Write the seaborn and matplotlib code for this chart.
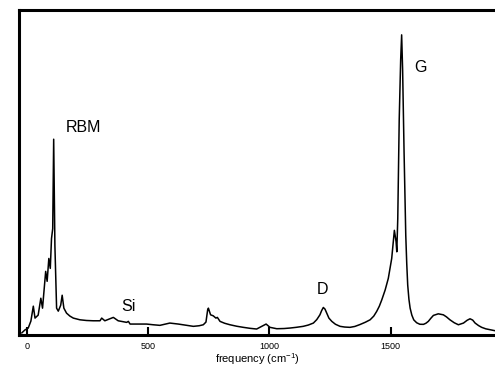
import seaborn as sns
import matplotlib.pyplot as plt
import numpy as np
import pandas as pd

# Raman spectrum (frequency in cm^-1, intensity in arbitrary units)
freq = [-22, -9, 5, 16, 26, 33, 46, 57, 64, 77, 83, 90, 96, 101, 106, 110, 115, 122, 129,
        139, 145, 152, 163, 177, 191, 218, 245, 273, 301, 308, 321, 356, 376, 411, 418, 425,
        460, 493, 520, 548, 589, 624, 655, 686, 710, 727, 738, 745, 748, 757, 768, 779, 785,
        796, 815, 837, 865, 892, 920, 947, 968, 986, 1002, 1030, 1060, 1085, 1110, 1139, 1160,
        1181, 1195, 1208, 1215, 1222, 1229, 1236, 1245, 1257, 1272, 1291, 1310, 1332, 1352,
        1373, 1395, 1415, 1430, 1442, 1453, 1463, 1477, 1490, 1504, 1515, 1522, 1525, 1529,
        1535, 1541, 1545, 1549, 1555, 1562, 1566, 1570, 1575, 1580, 1587, 1595, 1607, 1620,
        1635, 1645, 1655, 1666, 1676, 1696, 1717, 1730, 1744, 1762, 1779, 1800, 1815, 1827,
        1838, 1848, 1862, 1875, 1892, 1910, 1930]
intensity = [2, 5, 7, 14, 29, 17, 20, 37, 27, 64, 54, 77, 67, 97, 107, 197, 90, 27, 24,
             30, 40, 27, 22, 19, 17, 15.3, 14.6, 14.3, 14.3, 17, 14.3, 17.7, 14.3, 12.7, 13.7, 11,
             11, 11, 10.3, 9.7, 12, 11, 9.8, 8.7, 9.3, 10.3, 13, 25.3, 27, 20.3, 19.3, 17, 17.7,
             13.7, 11.8, 10.3, 8.8, 7.7, 6.7, 6, 8.7, 11, 7.7, 6.3, 6.5, 7, 7.7, 8.7, 10,
             12, 15.5, 20.3, 24.5, 27.7, 26, 22, 17, 13.7, 10.8, 8.7, 8, 7.7, 8.6,
             10.5, 12.8, 15.3, 19, 23.7, 29, 35.3, 45.3, 57, 77, 105.3, 94, 83.7, 117,
             217, 277, 302, 267, 184, 100.3, 72, 50.3, 36, 27, 20, 15.2, 12.3, 10.8,
             10.7, 11.8, 13.7, 17, 19.7, 21.3, 20.3, 18.2, 15.3, 12.3, 10.3, 12, 14.8, 16.3,
             15, 12, 9.5, 7.7, 6.2, 5.3, 4.3]

peak_labels = ["RBM", "Si", "D", "G"]
label_freq = [161, 388, 1196, 1596]
label_int = [209, 29, 46, 269]

df = pd.DataFrame({"freq": freq, "intensity": intensity})

sns.set_style("white")
plt.rcParams["font.family"] = ["Liberation Sans", "DejaVu Sans"]
plt.rcParams["mathtext.default"] = "regular"
plt.rcParams["text.color"] = "black"
plt.rcParams["axes.labelcolor"] = "black"
plt.rcParams["xtick.color"] = "black"

fig = plt.figure(figsize=(4.95, 3.68), dpi=100)
ax = fig.add_axes([0.0384, 0.0897, 0.9616, 0.8831])

sns.lineplot(data=df, x="freq", y="intensity", color="black", linewidth=1.1,
             estimator=None, sort=False, ax=ax)

for lab, fx, fy in zip(peak_labels, label_freq, label_int):
    ax.text(fx, fy, lab, fontsize=11.5, va="center", ha="left", color="black")

ax.set_xlim(-33, 1930)
ax.set_ylim(0, 327)
ax.set_xticks([0, 500, 1000, 1500])
ax.set_yticks([])
ax.tick_params(axis="x", direction="in", length=6, width=1.5, labelsize=6.5, pad=5,
               color="black", labelcolor="black", bottom=True)
ax.set_xlabel("frequency (cm$^{-1}$)", fontsize=8, labelpad=0, color="black")
ax.set_ylabel("")

for side in ["left", "top", "bottom"]:
    ax.spines[side].set_linewidth(2.2)
    ax.spines[side].set_color("black")
ax.spines["right"].set_visible(False)

fig.savefig("out.png", dpi=100)
